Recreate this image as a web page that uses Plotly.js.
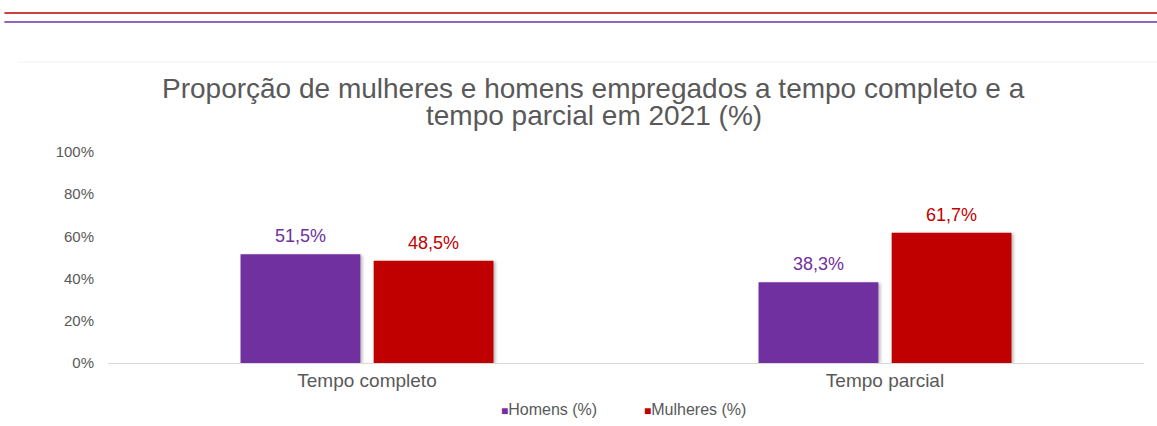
<!DOCTYPE html>
<html>
<head>
<meta charset="utf-8">
<script src="https://cdn.plot.ly/plotly-3.0.1.min.js"></script>
<style>
html,body{margin:0;padding:0;background:#fff;}
#chart{width:1157px;height:426px;}
#chart .barlayer .point path{filter:drop-shadow(2px 1px 1.5px rgba(0,0,0,0.28));}
</style>
</head>
<body>
<div id="chart"></div>
<script>
const categories = ["Tempo completo", "Tempo parcial"];
const homens = [51.5, 38.3];
const mulheres = [48.5, 61.7];
const seriesNames = ["Homens (%)", "Mulheres (%)"];
const yTicks = [0, 20, 40, 60, 80, 100];
const titleLines = ["Proporção de mulheres e homens empregados a tempo completo e a", "tempo parcial em 2021 (%)"];

const purple = "#7030A0", red = "#C00000";
const colors = [purple, red];
const fontFam = "Liberation Sans, Arial, Helvetica, sans-serif";
const grey = "#595959";

const series = [homens, mulheres];
const traces = series.map((vals, j) => ({
  type: "bar", name: seriesNames[j], x: categories, y: vals,
  marker: {color: colors[j]}, hoverinfo: "skip", showlegend: false
}));

// value labels, anchored to each bar through the axis scales
const annotations = [];
series.forEach((vals, j) => {
  vals.forEach((v, i) => {
    annotations.push({
      xref: "x", yref: "y", x: categories[i], y: v,
      text: v.toFixed(1).replace(".", ",") + "%",
      showarrow: false, xanchor: "center", yanchor: "bottom",
      xshift: j === 0 ? -66.5 : 66.5, yshift: 6,
      font: {size: 18, color: colors[j], family: fontFam}
    });
  });
});
// title lines
const titleY = [1.303, 1.175];
titleLines.forEach((t, k) => annotations.push({
  xref: "paper", yref: "paper", x: 0.4687, y: titleY[k], text: t,
  showarrow: false, xanchor: "center", yanchor: "middle",
  font: {size: 28, color: grey, family: fontFam}
}));
// legend
const legX = [0.377, 0.515];
seriesNames.forEach((n, j) => annotations.push({
  xref: "paper", yref: "paper", x: legX[j], y: -0.2227,
  text: '<span style="color:' + colors[j] + ';font-size:12px">■</span>' + n,
  showarrow: false, xanchor: "left", yanchor: "middle",
  font: {size: 16, color: grey, family: fontFam}
}));

const layout = {
  width: 1157, height: 426,
  margin: {l: 108, r: 13, t: 152, b: 63, autoexpand: false},
  paper_bgcolor: "#ffffff", plot_bgcolor: "#ffffff",
  font: {family: fontFam, color: grey},
  barmode: "group", bargap: 0.486, bargroupgap: 0.1,
  showlegend: false,
  xaxis: {type: "category", showline: true, linecolor: "#d9d9d9", linewidth: 1,
          ticks: "", tickfont: {size: 19, color: grey}, showgrid: false, zeroline: false},
  yaxis: {range: [0, 100], tickvals: yTicks, ticktext: yTicks.map(v => v + "%"),
          showgrid: false, zeroline: false, showline: false, ticks: "",
          tickfont: {size: 15, color: grey}, ticklabelstandoff: 13},
  annotations: annotations,
  shapes: [
    {type: "line", xref: "paper", yref: "paper", x0: -0.1, x1: 1.02, y0: 1.659, y1: 1.659,
     line: {color: red, width: 1.5}},
    {type: "line", xref: "paper", yref: "paper", x0: -0.1, x1: 1.02, y0: 1.616, y1: 1.616,
     line: {color: purple, width: 1.5}},
    {type: "line", xref: "paper", yref: "paper", x0: -0.087, x1: 1.02, y0: 1.4265, y1: 1.4265,
     line: {color: "#f2f2f2", width: 1}}
  ]
};

Plotly.newPlot("chart", traces, layout, {displayModeBar: false, staticPlot: true});
</script>
</body>
</html>
